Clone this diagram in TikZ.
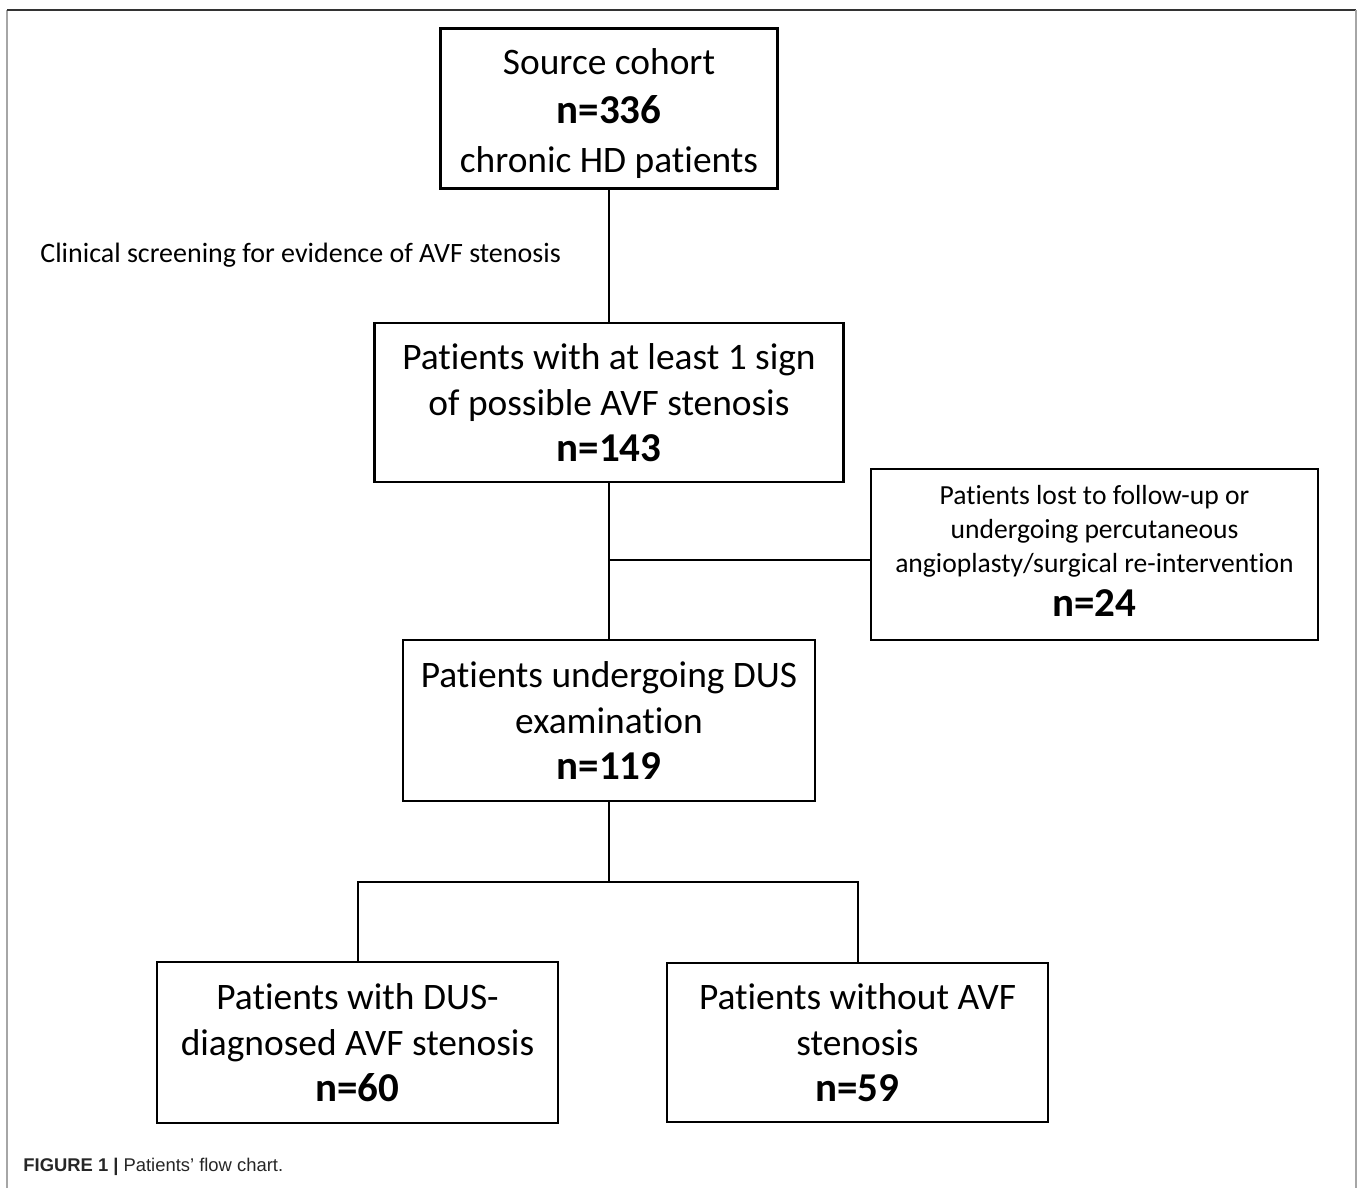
\documentclass[tikz,border=0pt]{standalone}
\usepackage{fontspec}
\setmainfont{Carlito}[Ligatures=NoCommon]
\newfontfamily\capfont{Liberation Sans}

\tikzset{
  box/.style={draw, line width=1.1pt, inner sep=0pt, align=center,
    font=\fontsize{18.7}{23}\selectfont},
  smallbox/.style={box, font=\fontsize{13.8}{17}\selectfont},
  link/.style={line width=1pt},
}
\newcommand{\cnt}[1]{{\fontsize{20.5}{23}\selectfont\bfseries #1}}

\begin{document}
\begin{tikzpicture}[x=0.5pt, y=-0.5pt]
  \useasboundingbox (0,0) rectangle (1358,1188);
  \draw[black!35, line width=1.2pt] (7,1188) -- (7,10.5);
  \draw[black!80, line width=1pt] (7,10.5) -- (1356,10.5);
  \draw[black!35, line width=1.2pt] (1356,10.5) -- (1356,1188);

  \node[box, minimum width=168.5pt, minimum height=80pt] (src) at (609,108.5)
    {\\[-5pt] Source cohort\\[1.5pt] \cnt{n=336}\\[1.5pt] chronic HD patients};
  \node[anchor=west, inner sep=0pt, font=\fontsize{14}{17}\selectfont] (screen) at (40,255)
    {Clinical screening for evidence of AVF stenosis};
  \node[box, minimum width=234.5pt, minimum height=79.5pt] (sign) at (609,402.5)
    {Patients with at least 1 sign\\ of possible AVF stenosis\\ \cnt{n=143}};
  \node[smallbox, minimum width=223.5pt, minimum height=85.5pt] (lost) at (1094.5,554.5)
    {Patients lost to follow-up or\\ undergoing percutaneous\\ angioplasty/surgical re-intervention\\[5pt] \cnt{n=24}\\[-13pt]};
  \node[box, minimum width=206pt, minimum height=80.5pt] (dus) at (609,720.5)
    {Patients undergoing DUS\\ examination\\ \cnt{n=119}};
  \node[box, minimum width=200.5pt, minimum height=80.5pt] (pos) at (357.5,1042.5)
    {Patients with DUS-\\ diagnosed AVF stenosis\\ \cnt{n=60}};
  \node[box, minimum width=190.5pt, minimum height=79.5pt] (neg) at (857.5,1042.5)
    {Patients without AVF\\ stenosis\\ \cnt{n=59}};

  \coordinate (out) at (609,560);
  \coordinate (split) at (609,882);

  \draw[link] (src) -- (sign);
  \draw[link] (sign) -- (dus);
  \draw[link] (out) -- (out -| lost.west);
  \draw[link] (dus) -- (split);
  \draw[link] (pos.north) |- (split) -| (neg.north);

  \node[anchor=west, inner sep=0pt, text=black!85, font=\capfont\fontsize{9.2}{11}\selectfont] (cap) at (23,1167)
    {\textbf{FIGURE 1 |} Patients’ flow chart.};
\end{tikzpicture}
\end{document}
